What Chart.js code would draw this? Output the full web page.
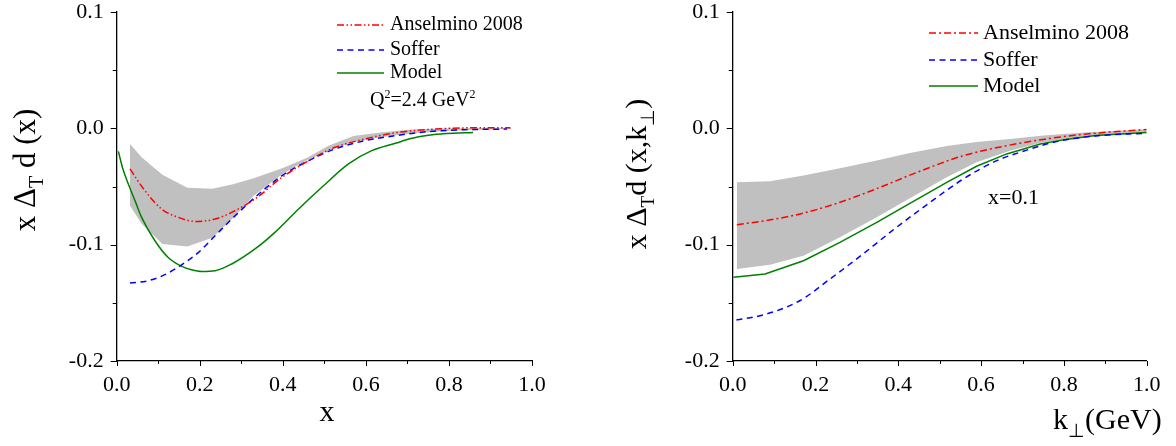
<!DOCTYPE html>
<html>
<head>
<meta charset="utf-8">
<script src="https://cdn.jsdelivr.net/npm/chart.js@4.4.0/dist/chart.umd.min.js"></script>
<style>
  html, body { margin: 0; padding: 0; background: #fff; }
  #wrap { position: relative; width: 1176px; height: 446px; }
  .panel { position: absolute; top: 0; width: 588px; height: 446px; }
</style>
</head>
<body>
<div id="wrap">
  <div class="panel" style="left:0"><canvas id="chartX"></canvas></div>
  <div class="panel" style="left:588px"><canvas id="chartK"></canvas></div>
</div>
<script>
// ---------- left panel: x dependence ----------
const leftAnsX = [0.032, 0.068, 0.108, 0.148, 0.189, 0.237, 0.277, 0.333, 0.398, 0.462, 0.526, 0.598, 0.671, 0.751, 0.837, 0.948];
const leftAnsY = [-0.0349, -0.0536, -0.0693, -0.0765, -0.080, -0.078, -0.0722, -0.0607, -0.0421, -0.0278, -0.0163, -0.0091, -0.0038, -0.001, 0.0004, 0.0006];

const leftSofferX = [0.032, 0.076, 0.116, 0.157, 0.197, 0.237, 0.277, 0.333, 0.398, 0.462, 0.526, 0.598, 0.671, 0.751, 0.837, 0.94];
const leftSofferY = [-0.133, -0.131, -0.1258, -0.1172, -0.1066, -0.0923, -0.078, -0.0593, -0.0407, -0.0278, -0.0177, -0.0106, -0.0063, -0.0028, -0.0012, -0.0006];

const leftModelX = [0.004, 0.015, 0.028, 0.045, 0.06, 0.092, 0.124, 0.157, 0.18, 0.205, 0.237, 0.277, 0.333, 0.381, 0.438, 0.494, 0.558, 0.614, 0.671, 0.708, 0.751, 0.794, 0.858];
const leftModelY = [-0.0198, -0.035, -0.0478, -0.063, -0.0765, -0.0966, -0.111, -0.1187, -0.1215, -0.123, -0.1224, -0.1166, -0.1037, -0.0894, -0.0693, -0.0507, -0.0306, -0.0192, -0.0129, -0.0088, -0.006, -0.0045, -0.0035];

// error band of the Anselmino fit
const leftBandX = [0.032, 0.06, 0.11, 0.17, 0.23, 0.28, 0.33, 0.40, 0.46, 0.51, 0.57, 0.64, 0.71, 0.80, 0.95];
const leftBandHi = [-0.0134, -0.0249, -0.040, -0.051, -0.052, -0.048, -0.043, -0.034, -0.025, -0.015, -0.0066, -0.0034, -0.001, 0.0, 0.0006];
const leftBandLo = [-0.0665, -0.082, -0.0995, -0.1015, -0.094, -0.077, -0.058, -0.039, -0.027, -0.019, -0.012, -0.0075, -0.0045, -0.002, -0.0006];

// ---------- right panel: k_perp dependence at x = 0.1 ----------
const rightAnsK = [0.01, 0.078, 0.163, 0.259, 0.356, 0.444, 0.557, 0.662, 0.75, 0.85, 1.0];
const rightAnsY = [-0.0828, -0.0794, -0.0736, -0.0636, -0.0507, -0.038, -0.0235, -0.0149, -0.0095, -0.005, -0.001];

const rightSofferK = [0.009, 0.078, 0.163, 0.235, 0.315, 0.396, 0.477, 0.557, 0.638, 0.699, 0.787, 0.876, 1.0];
const rightSofferY = [-0.1647, -0.160, -0.148, -0.1295, -0.108, -0.085, -0.0636, -0.0435, -0.0278, -0.020, -0.011, -0.0065, -0.0042];

const rightModelK = [0.002, 0.078, 0.171, 0.259, 0.348, 0.428, 0.517, 0.589, 0.662, 0.743, 0.805, 0.876, 1.0];
const rightModelY = [-0.128, -0.1252, -0.1138, -0.098, -0.0808, -0.0645, -0.0464, -0.0326, -0.022, -0.0135, -0.0095, -0.0062, -0.0035];

const rightBandK = [0.01, 0.09, 0.171, 0.259, 0.348, 0.428, 0.517, 0.589, 0.67, 0.75, 0.85, 1.0];
const rightBandHi = [-0.0464, -0.0455, -0.0405, -0.0343, -0.0276, -0.0213, -0.0152, -0.0117, -0.0091, -0.0062, -0.0035, -0.0008];
const rightBandLo = [-0.1209, -0.1172, -0.1095, -0.0937, -0.0765, -0.0602, -0.0421, -0.0292, -0.0192, -0.012, -0.0075, -0.0038];

const xTicks = [0, 0.2, 0.4, 0.6, 0.8, 1.0];
const yTicks = [-0.2, -0.1, 0.0, 0.1];

const SERIF = '"Liberation Serif", "Times New Roman", serif';
const RED = '#ff0000', BLUE = '#0000ff', GREEN = '#008000', GRAY = '#c0c0c0';
const DASH_DOT_DOT = [7, 2.5, 1.5, 2.5, 1.5, 2.5];
const DASH_DOT = [7, 3, 2, 3];
const DASHED = [6, 4.5];

const pts = (xs, ys) => xs.map((x, i) => ({ x: x, y: ys[i] }));

// draws a run of text pieces one after another: [text, size, baseline shift]
function drawParts(ctx, parts, x, y, align) {
	let total = 0;
	parts.forEach(p => { ctx.font = p[1] + 'px ' + SERIF; total += ctx.measureText(p[0]).width; });
	let cx = align === 'center' ? x - total / 2 : x;
	ctx.textAlign = 'left';
	ctx.textBaseline = 'alphabetic';
	parts.forEach(p => {
		ctx.font = p[1] + 'px ' + SERIF;
		ctx.fillText(p[0], cx, y + (p[2] || 0));
		cx += ctx.measureText(p[0]).width;
	});
}

// small tick marks every 0.1 on x and every 0.05 on y
const axisTicks = {
	id: 'axisTicks',
	afterDraw(chart) {
		const { ctx, scales: { x, y } } = chart;
		ctx.save();
		ctx.strokeStyle = '#000';
		ctx.lineWidth = 1;
		ctx.beginPath();
		for (let i = 0; i <= 10; i++) {
			const px = Math.round(x.getPixelForValue(i / 10)) + 0.5;
			const len = i % 2 ? 3 : 5;
			ctx.moveTo(px, y.bottom); ctx.lineTo(px, y.bottom + len);
		}
		for (let i = -4; i <= 2; i++) {
			const py = Math.round(y.getPixelForValue(i * 0.05)) + 0.5;
			const len = i % 2 ? 4 : 6;
			ctx.moveTo(x.left, py); ctx.lineTo(x.left - len, py);
		}
		ctx.stroke();
		ctx.restore();
	}
};

// legend entries and axis titles
const decorations = {
	id: 'decorations',
	afterDraw(chart, args, opts) {
		const ctx = chart.ctx;
		ctx.save();
		ctx.fillStyle = '#000';
		// legend
		opts.legend.forEach((row, i) => {
			const ly = opts.legendY[i];
			ctx.strokeStyle = row.color;
			ctx.lineWidth = 1.5;
			ctx.setLineDash(row.dash);
			ctx.beginPath();
			ctx.moveTo(opts.legendX[0], ly); ctx.lineTo(opts.legendX[1], ly);
			ctx.stroke();
			ctx.setLineDash([]);
			ctx.font = opts.legendSize + 'px ' + SERIF;
			ctx.textAlign = 'left';
			ctx.textBaseline = 'middle';
			ctx.fillText(row.text, opts.legendX[2], ly);
		});
		// notes
		opts.notes.forEach(n => drawParts(ctx, n.parts, n.x, n.y, 'left'));
		// y title, rotated
		ctx.save();
		ctx.translate(opts.yTitle.x, opts.yTitle.y);
		ctx.rotate(-Math.PI / 2);
		drawParts(ctx, opts.yTitle.parts, 0, 0, 'center');
		ctx.restore();
		// x title
		drawParts(ctx, opts.xTitle.parts, opts.xTitle.x, opts.xTitle.y, opts.xTitle.align);
		ctx.restore();
	}
};

function makeChart(id, cfg) {
	const line = (data, color, dash, smooth) => ({
		data: data, borderColor: color, borderWidth: 1.5, borderDash: dash,
		pointRadius: 0, fill: false, order: 1,
		tension: smooth ? 0.4 : 0,
		cubicInterpolationMode: smooth ? 'monotone' : 'default'
	});
	return new Chart(document.getElementById(id), {
		type: 'line',
		data: {
			datasets: [
				line(cfg.ans, RED, cfg.ansDash, cfg.smooth[0]),
				line(cfg.soffer, BLUE, DASHED, cfg.smooth[1]),
				line(cfg.model, GREEN, [], cfg.smooth[2]),
				{ data: cfg.bandHi, borderWidth: 0, borderColor: 'rgba(0,0,0,0)', backgroundColor: GRAY, pointRadius: 0, fill: '+1', order: 5 },
				{ data: cfg.bandLo, borderWidth: 0, borderColor: 'rgba(0,0,0,0)', pointRadius: 0, fill: false, order: 6 }
			]
		},
		options: {
			responsive: true,
			maintainAspectRatio: false,
			animation: false,
			events: [],
			layout: { padding: { top: 12, right: cfg.padRight, bottom: 0, left: 0 } },
			scales: {
				x: {
					type: 'linear', min: 0, max: 1,
					afterBuildTicks: s => { s.ticks = xTicks.map(v => ({ value: v })); },
					afterFit: s => { s.height = 85; s.paddingLeft = 0; s.paddingRight = 0; },
					grid: { display: false, drawTicks: true, tickLength: 5 },
					border: { display: true, color: '#000', width: 1.3 },
					ticks: { color: '#000', font: { family: SERIF, size: 22 }, padding: 6, maxRotation: 0, callback: v => v.toFixed(1) }
				},
				y: {
					type: 'linear', min: -0.2, max: 0.1,
					afterBuildTicks: s => { s.ticks = yTicks.map(v => ({ value: v })); },
					afterFit: s => { s.width = cfg.yWidth; s.paddingTop = 0; s.paddingBottom = 0; },
					grid: { display: false, drawTicks: true, tickLength: 5 },
					border: { display: true, color: '#000', width: 1.3 },
					ticks: { color: '#000', font: { family: SERIF, size: 22 }, padding: 8, callback: v => v.toFixed(1) }
				}
			},
			plugins: {
				legend: { display: false },
				tooltip: { enabled: false },
				decorations: cfg.decorations
			}
		},
		plugins: [axisTicks, decorations]
	});
}

makeChart('chartX', {
	ans: pts(leftAnsX, leftAnsY),
	soffer: pts(leftSofferX, leftSofferY),
	model: pts(leftModelX, leftModelY),
	bandHi: pts(leftBandX, leftBandHi),
	bandLo: pts(leftBandX, leftBandLo),
	ansDash: DASH_DOT_DOT,
	smooth: [true, true, true],
	padRight: 56,
	yWidth: 116.7,
	decorations: {
		legend: [
			{ text: 'Anselmino 2008', color: RED, dash: DASH_DOT_DOT },
			{ text: 'Soffer', color: BLUE, dash: DASHED },
			{ text: 'Model', color: GREEN, dash: [] }
		],
		legendX: [337, 384, 390],
		legendY: [25, 50, 73],
		legendSize: 20,
		notes: [
			{ x: 370, y: 106, parts: [['Q', 20], ['2', 12, -8], ['=2.4 GeV', 20], ['2', 12, -8]] }
		],
		yTitle: { x: 35, y: 170, parts: [['x \u0394', 31], ['T', 20, 8], [' d (x)', 31]] },
		xTitle: { x: 327, y: 421, align: 'center', parts: [['x', 30]] }
	}
});

makeChart('chartK', {
	ans: pts(rightAnsK, rightAnsY),
	soffer: pts(rightSofferK, rightSofferY),
	model: pts(rightModelK, rightModelY),
	bandHi: pts(rightBandK, rightBandHi),
	bandLo: pts(rightBandK, rightBandLo),
	ansDash: DASH_DOT,
	smooth: [true, true, false],
	padRight: 29.3,
	yWidth: 144.7,
	decorations: {
		legend: [
			{ text: 'Anselmino 2008', color: RED, dash: DASH_DOT },
			{ text: 'Soffer', color: BLUE, dash: DASHED },
			{ text: 'Model', color: GREEN, dash: [] }
		],
		legendX: [341, 390, 395],
		legendY: [33, 60, 86],
		legendSize: 22,
		notes: [
			{ x: 400, y: 204, parts: [['x=0.1', 22]] }
		],
		yTitle: { x: 58, y: 174, parts: [['x \u0394', 30], ['T', 19, 8], ['d (x,k', 30], ['\u22a5', 19, 8], [')', 30]] },
		xTitle: { x: 465, y: 429, align: 'left', parts: [['k', 30], ['\u22a5', 19, 8], ['(GeV)', 30]] }
	}
});
</script>
</body>
</html>
